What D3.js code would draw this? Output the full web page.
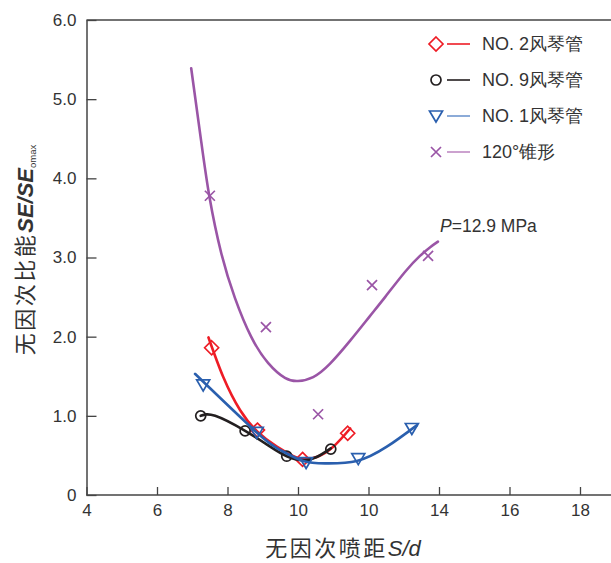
<!DOCTYPE html>
<html>
<head>
<meta charset="utf-8">
<script src="https://cdn.jsdelivr.net/npm/d3@7"></script>
<style>
  body { margin: 0; background: #fff; }
  svg { display: block; }
  text { font-family: "Liberation Sans", Arial, sans-serif; fill: #333; }
  .cjk { font-family: "Noto Sans CJK SC", sans-serif; }
</style>
</head>
<body>
<svg id="chart"></svg>
<script>
// x ticks and their labels (the original prints "10" twice)
const xTicks = [4, 6, 8, 10, 12, 14, 16, 18];
const xTickLabels = ['4', '6', '8', '10', '10', '14', '16', '18'];
const yTicks = [0, 1, 2, 3, 4, 5, 6];
const yTickLabels = ['0', '1.0', '2.0', '3.0', '4.0', '5.0', '6.0'];

// measured points
const no2Pts = [[7.55, 1.86], [8.85, 0.82], [10.13, 0.45], [11.41, 0.78]];
const no9Pts = [[7.24, 1.00], [8.50, 0.81], [9.68, 0.49], [10.93, 0.58]];
const no1Pts = [[7.31, 1.39], [8.83, 0.79], [10.23, 0.41], [11.71, 0.46], [13.23, 0.84]];
const conePts = [[7.50, 3.78], [9.09, 2.12], [10.57, 1.02], [12.10, 2.65], [13.69, 3.02]];

// fitted curves
const no2Fit = [[7.46, 1.99], [7.88, 1.49], [8.36, 1.07], [8.85, 0.80], [9.40, 0.61], [9.87, 0.49],
  [10.15, 0.45], [10.53, 0.48], [11.00, 0.61], [11.48, 0.84]];
const no9Fit = [[7.24, 1.00], [7.65, 1.00], [8.50, 0.81], [9.21, 0.61], [9.68, 0.49], [10.15, 0.44],
  [10.53, 0.48], [10.93, 0.59]];
const no1Fit = [[7.08, 1.53], [8.83, 0.79], [9.49, 0.57], [10.15, 0.43], [10.81, 0.40], [11.67, 0.43],
  [12.52, 0.61], [13.37, 0.88]];
const coneFit = [[6.97, 5.39], [7.25, 4.48], [7.49, 3.76], [7.82, 3.06], [8.21, 2.49], [8.67, 2.00],
  [9.15, 1.67], [9.63, 1.48], [10.00, 1.44], [10.43, 1.49], [10.91, 1.66], [11.48, 1.95], [12.04, 2.26],
  [12.47, 2.50], [13.04, 2.82], [13.46, 3.02], [13.75, 3.13], [13.97, 3.20]];

const series = [
  {name: 'NO. 2风琴管', pts: no2Pts, fit: no2Fit, color: '#ee1c25', legendLine: '#ee1c25', shape: 'diamond'},
  {name: 'NO. 9风琴管', pts: no9Pts, fit: no9Fit, color: '#231f20', legendLine: '#231f20', shape: 'circle'},
  {name: 'NO. 1风琴管', pts: no1Pts, fit: no1Fit, color: '#2a5fae', legendLine: '#7096cf', shape: 'triangle'},
  {name: '120°锥形', pts: conePts, fit: coneFit, color: '#9a55a6', legendLine: '#c08bc3', shape: 'cross'}
];

const W = 611, H = 563;
const svg = d3.select('#chart').attr('width', W).attr('height', H);

const x = d3.scaleLinear().domain([4, 19]).range([86.5, 615.25]);
const y = d3.scaleLinear().domain([0, 6]).range([495, 20]);

// axes
const xAxis = svg.append('g')
  .attr('transform', `translate(0,${y(0)})`)
  .call(d3.axisBottom(x).tickValues(xTicks).tickSizeInner(-8).tickSizeOuter(0).tickPadding(9)
    .tickFormat((d, i) => xTickLabels[i]));
const yAxis = svg.append('g')
  .attr('transform', `translate(${x(4)},0)`)
  .call(d3.axisLeft(y).tickValues(yTicks).tickSizeInner(-10).tickSizeOuter(0).tickPadding(10)
    .tickFormat((d, i) => yTickLabels[i]));
[xAxis, yAxis].forEach(a => {
  a.select('.domain').attr('stroke', '#444').attr('stroke-width', 1.5);
  a.selectAll('.tick line').attr('stroke', '#444').attr('stroke-width', 1.3);
  a.selectAll('.tick text').style('font-size', '17px').attr('fill', '#333')
    .style('font-family', '"Liberation Sans", Arial, sans-serif');
});
xAxis.select('.domain').attr('d', `M${x(4)},0H${W}`);
// top frame line
svg.append('line').attr('x1', x(4)).attr('x2', W).attr('y1', y(6)).attr('y2', y(6))
  .attr('stroke', '#444').attr('stroke-width', 1.5);

function symbolPath(shape){
  if(shape === 'diamond') return 'M0,-7L7,0L0,7L-7,0Z';
  if(shape === 'circle') return 'M5,0A5,5 0 1,1 -5,0A5,5 0 1,1 5,0Z';
  if(shape === 'triangle') return 'M-6.5,-5L6.5,-5L0,6Z';
  return 'M-5,-5L5,5M-5,5L5,-5';
}

const line = d3.line().x(d => x(d[0])).y(d => y(d[1])).curve(d3.curveNatural);

// draw cone first so the small curves sit on top
const order = [3, 0, 1, 2];
order.forEach(i => {
  const s = series[i];
  svg.append('path').datum(s.fit)
    .attr('d', line).attr('fill', 'none')
    .attr('stroke', s.color).attr('stroke-width', 2.6).attr('stroke-linecap', 'round');
  svg.append('g').selectAll('path').data(s.pts).join('path')
    .attr('transform', d => `translate(${x(d[0])},${y(d[1])})`)
    .attr('d', symbolPath(s.shape))
    .attr('fill', 'none').attr('stroke', s.color).attr('stroke-width', 1.7);
});

// legend
const legend = svg.append('g');
series.forEach((s, i) => {
  const ly = 44 + i * 36;
  legend.append('path').attr('transform', `translate(436,${ly})`)
    .attr('d', symbolPath(s.shape)).attr('fill', 'none')
    .attr('stroke', s.color).attr('stroke-width', 1.7);
  legend.append('line').attr('x1', 447).attr('x2', 470).attr('y1', ly).attr('y2', ly)
    .attr('stroke', s.legendLine).attr('stroke-width', 1.6);
  legend.append('text').attr('x', 482).attr('y', ly + 6)
    .style('font-size', '18px').text(s.name);
});

// pressure note
const note = svg.append('text').attr('x', 440).attr('y', 232).style('font-size', '17.5px');
note.append('tspan').style('font-style', 'italic').text('P');
note.append('tspan').text('=12.9 MPa');

// x title
const xt = svg.append('text').attr('x', 343).attr('y', 556).attr('text-anchor', 'middle').style('font-size', '22px');
xt.append('tspan').attr('class', 'cjk').style('letter-spacing', '2.5px').text('无因次喷距');
xt.append('tspan').style('font-style', 'italic').text('S/d');

// y title
const yt = svg.append('text').attr('transform', 'translate(33,250) rotate(-90)')
  .attr('text-anchor', 'middle').style('font-size', '22px');
yt.append('tspan').attr('class', 'cjk').style('letter-spacing', '2.5px').text('无因次比能');
yt.append('tspan').style('font-style', 'italic').style('font-weight', 'bold').text('SE/SE');
yt.append('tspan').attr('dy', 3).style('font-size', '9.5px').text('omax');
</script>
</body>
</html>
